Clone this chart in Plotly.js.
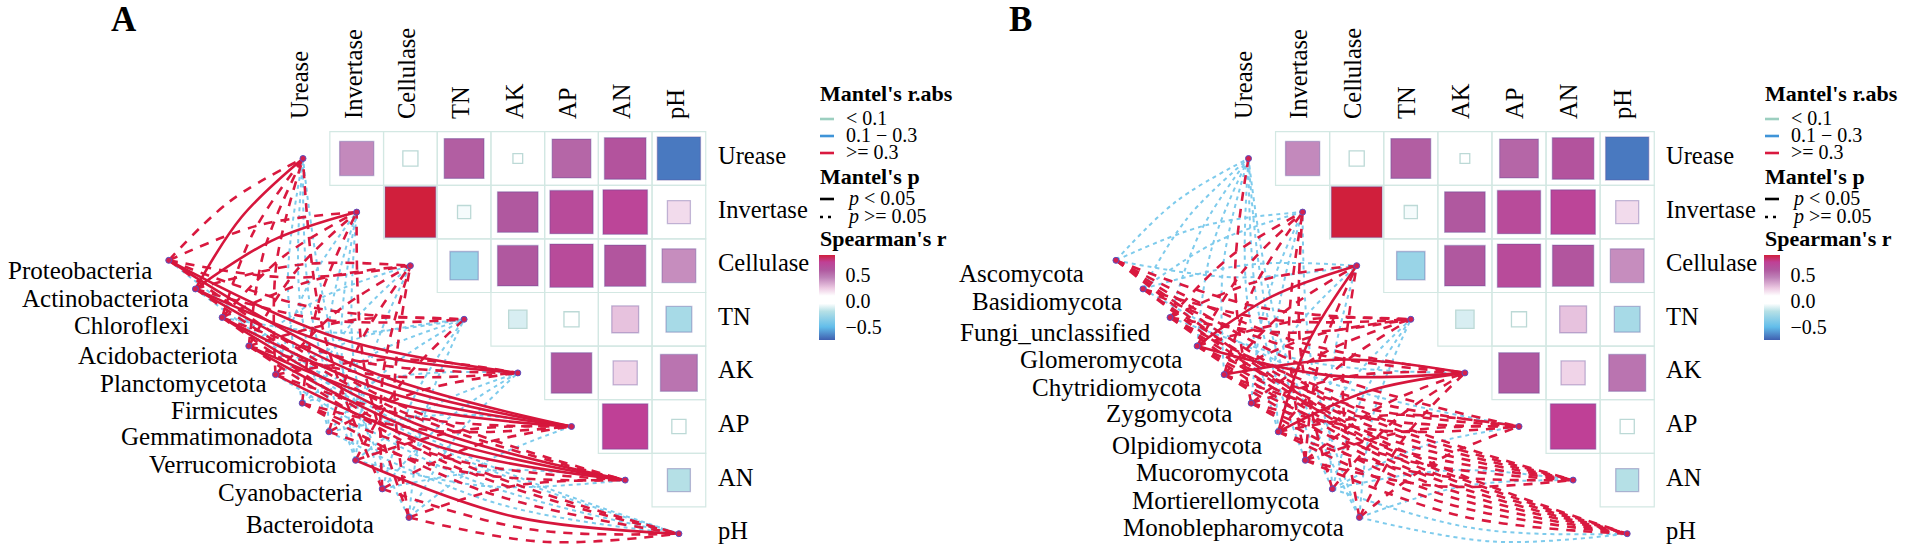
<!DOCTYPE html>
<html>
<head>
<meta charset="utf-8">
<script src="https://cdn.plot.ly/plotly-3.0.1.min.js"></script>
<style>html,body{margin:0;padding:0;background:#fff}#plot{width:1905px;height:551px}</style>
</head>
<body>
<div id="plot"></div>
<script>
// ---------- data ----------
const envVars = ["Urease","Invertase","Cellulase","TN","AK","AP","AN","pH"];
const taxaA = ["Proteobacteria","Actinobacteriota","Chloroflexi","Acidobacteriota","Planctomycetota","Firmicutes","Gemmatimonadota","Verrucomicrobiota","Cyanobacteria","Bacteroidota"];
const taxaB = ["Ascomycota","Basidiomycota","Fungi_unclassified","Glomeromycota","Chytridiomycota","Zygomycota","Olpidiomycota","Mucoromycota","Mortierellomycota","Monoblepharomycota"];
// Spearman's r, upper triangle: each row starts right of the diagonal
const spearman = [
  [0.43,0.09,0.58,-0.04,0.55,0.63,-0.68],
  [0.93,-0.07,0.60,0.68,0.72,0.20],
  [-0.30,0.60,0.68,0.62,0.42],
  [-0.13,0.09,0.27,-0.25],
  [0.60,0.22,0.50],
  [0.75,0.08],
  [-0.20]
];
// Mantel links: one letter per env variable. S solid (r>=0.3, p<0.05), D dashed (r>=0.3, p>=0.05), B dotted blue (weak)
const mantelA = ["DDDDSSDB","SSDDSSDB","DDDBDSSD","DDBDDSSD","DBDBDDSB","BDBBBDDD","BBDBDBDB","BBBDBDBS","DBDBBDBD","BDDBBBDD"];
const mantelB = ["BBBDDDDD","BBBDDBDD","BDDDBDDD","BDSDSDDD","BDDDSDDD","DBBDDDDD","BBSDSDDD","BDDBDDDD","BDBBDBBB","BBDBDDBB"];
const rLegend = ["< 0.1","0.1 \u2212 0.3",">= 0.3"];
const pLegend = ["<i>p</i> < 0.05","<i>p</i> >= 0.05"];
const cbTicks = [0.5,0,-0.5];

// ---------- styles and geometry ----------
const FONT = '"Liberation Serif","Times New Roman",serif';
const W = 1905, H = 551;
const plotTop = 125;
const colorscaleStops = [[-0.75,"#3f5fb0"],[-0.5,"#62bdea"],[-0.2,"#b5e0e6"],[-0.05,"#ffffff"],[0.1,"#ffffff"],[0.25,"#ecc9e2"],[0.45,"#bf82b8"],[0.6,"#b0589f"],[0.75,"#bf4096"],[0.885,"#d01f3c"]];
const cmin = -0.75, cmax = 0.885;
const cs = colorscaleStops.map(s => [(s[0]-cmin)/(cmax-cmin), s[1]]);
const style = {
  B:{color:"#7ecbec",width:2,dash:"4px,4px"},
  D:{color:"#d9193f",width:2.6,dash:"9px,8px"},
  S:{color:"#d6163c",width:2.6,dash:"solid"}
};
const panels = [
 {suffix:"",  taxa:taxaA, mantel:mantelA, px0:303, sx:53.7, dom:[0,712], letter:"A", letterX:124, legendX:820, colShift:-3,
  nodeStart:[-2.5,1.9], nodeStep:[0.497,0.533],
  labelEnd:[153,190,190,239,268,279,314,337,363,375], labelY:[270,298,325,355,383,410,436,464,492,524]},
 {suffix:"2", taxa:taxaB, mantel:mantelB, px0:1248.5, sx:54.1, dom:[950,1660], letter:"B", letterX:1020, legendX:1765, colShift:-4,
  nodeStart:[-2.45,1.9], nodeStep:[0.5,0.533],
  labelEnd:[1085,1123,1152,1183,1202,1233,1263,1290,1320,1345], labelY:[273,301,332,359,387,413,445,472,500,527]}
];
const py0 = 158.5, sy = 53.6;

const traces = [], shapes = [], annotations = [];
const layout = {width:W,height:H,margin:{l:0,r:0,t:0,b:0},paper_bgcolor:"#fff",plot_bgcolor:"rgba(0,0,0,0)",
  showlegend:false,font:{family:FONT,color:"#000",size:24},shapes,annotations};

panels.forEach(p => {
  const xa = "x"+p.suffix, ya = "y"+p.suffix;
  const xkey = "xaxis"+p.suffix, ykey = "yaxis"+p.suffix;
  layout[xkey] = {domain:[p.dom[0]/W,p.dom[1]/W],range:[(p.dom[0]-p.px0)/p.sx,(p.dom[1]-p.px0)/p.sx],anchor:ya,side:"top",
    tickmode:"array",tickvals:envVars.map((_,i)=>i),ticktext:envVars,tickangle:-90,ticks:"",showgrid:false,zeroline:false,showline:false,
    ticklabelstandoff:5,ticklabelshift:p.colShift,tickfont:{family:FONT,size:24.5,color:"#000"}};
  layout[ykey] = {domain:[0,(H-plotTop)/H],range:[(H-py0)/sy,(plotTop-py0)/sy],anchor:xa,side:"right",
    tickmode:"array",tickvals:envVars.map((_,i)=>i),ticktext:envVars,ticks:"",showgrid:false,zeroline:false,showline:false,
    ticklabelstandoff:5,ticklabelshift:3,tickfont:{family:FONT,size:24.5,color:"#000"}};

  // grid cells
  spearman.forEach((row,i)=>row.forEach((_,k)=>{
    const j=i+1+k;
    shapes.push({type:"rect",xref:xa,yref:ya,x0:j-0.5,x1:j+0.5,y0:i-0.5,y1:i+0.5,line:{color:"#d3e8e3",width:1.2},fillcolor:"rgba(0,0,0,0)",layer:"below"});
  }));

  // links, weakest first
  const nodeX = p.taxa.map((_,i)=>p.nodeStart[0]+p.nodeStep[0]*i);
  const nodeY = p.taxa.map((_,i)=>p.nodeStart[1]+p.nodeStep[1]*i);
  ["B","D","S"].forEach(code=>{
    const xs=[],ys=[];
    p.mantel.forEach((row,i)=>{
      row.split("").forEach((c,e)=>{
        if(c!==code) return;
        const x0=nodeX[i],y0=nodeY[i],x1=e,y1=e;
        const dx=x1-x0,dy=y1-y0;
        let nx=-dy,ny=dx;
        if(nx>0){nx=-nx;ny=-ny;}
        const bow=0.06;
        xs.push(x0,(x0+x1)/2+nx*bow,x1,null);
        ys.push(y0,(y0+y1)/2+ny*bow,y1,null);
      });
    });
    traces.push({type:"scatter",mode:"lines",x:xs,y:ys,xaxis:xa,yaxis:ya,hoverinfo:"skip",cliponaxis:false,connectgaps:false,
      line:Object.assign({shape:"spline",smoothing:1},style[code])});
  });

  // taxa nodes and labels
  traces.push({type:"scatter",mode:"markers",x:nodeX,y:nodeY,xaxis:xa,yaxis:ya,hoverinfo:"skip",cliponaxis:false,
    marker:{size:6,color:"#d3204f",line:{color:"#5a50c0",width:1}}});
  p.taxa.forEach((t,i)=>annotations.push({xref:"paper",yref:"paper",x:p.labelEnd[i]/W,y:1-p.labelY[i]/H,text:t,showarrow:false,
    xanchor:"right",yanchor:"middle",borderpad:0,font:{family:FONT,size:25,color:"#000"}}));

  // env nodes
  traces.push({type:"scatter",mode:"markers",x:envVars.map((_,i)=>i),y:envVars.map((_,i)=>i),xaxis:xa,yaxis:ya,hoverinfo:"skip",cliponaxis:false,
    marker:{size:6,color:"#d3204f",line:{color:"#5a50c0",width:1}}});

  // squares
  const cx=[],cy=[],cv=[],cz=[];
  spearman.forEach((row,i)=>row.forEach((v,k)=>{cx.push(i+1+k);cy.push(i);cv.push(v);cz.push(sy*Math.sqrt(Math.abs(v))-1);}));
  traces.push({type:"scatter",mode:"markers",x:cx,y:cy,xaxis:xa,yaxis:ya,hoverinfo:"skip",
    marker:{symbol:"square",size:cz,sizemode:"diameter",opacity:1,color:cv,cmin,cmax,colorscale:cs,
      line:{width:1.3,color:cv.map(v=>Math.abs(v)<0.15?"#bcd9d6":"rgba(90,70,150,0.35)")},
      colorbar:{x:(p.legendX-1)/W,xanchor:"left",xpad:0,ypad:0,y:1-255/H,yanchor:"top",lenmode:"pixels",len:85,thicknessmode:"pixels",thickness:16,
        outlinewidth:0,tickvals:cbTicks,ticktext:cbTicks.map(v=>v===0?"0.0":(v<0?"\u2212"+Math.abs(v).toFixed(1):v.toFixed(1))),ticks:"outside",ticklen:7,tickcolor:"#fff",
        tickfont:{family:FONT,size:20,color:"#000"}}}});

  // panel letter
  annotations.push({xref:"paper",yref:"paper",x:p.letterX/W,y:1-20/H,text:"<b>"+p.letter+"</b>",showarrow:false,xanchor:"center",yanchor:"middle",font:{family:FONT,size:35,color:"#000"}});

  // legend
  const lx=p.legendX, tx=(text,x,y,size,bold)=>annotations.push({xref:"paper",yref:"paper",x:x/W,y:1-y/H,text:bold?"<b>"+text+"</b>":text,showarrow:false,xanchor:"left",yanchor:"middle",font:{family:FONT,size:size,color:"#000"},borderpad:0,xshift:-1});
  const sw=(y,color,dash)=>shapes.push({type:"line",xref:"paper",yref:"paper",x0:lx/W,x1:(lx+14)/W,y0:1-y/H,y1:1-y/H,line:{color,width:2.6,dash:dash||"solid"}});
  tx("Mantel's r.abs",lx,93,22,true);
  [[119,"#9ccfc0"],[136,"#3f94d8"],[153,"#d9193f"]].forEach((e,i)=>{sw(e[0],e[1]);tx(rLegend[i],lx+26,e[0]-1,20);});
  tx("Mantel's p",lx,176,22,true);
  sw(199,"#000");
  shapes.push({type:"line",xref:"paper",yref:"paper",x0:lx/W,x1:(lx+12)/W,y0:1-217/H,y1:1-217/H,line:{color:"#000",width:2.6,dash:"3px,5px"}});
  pLegend.forEach((t,i)=>tx(t,lx+27,198+i*18,20));
  tx("Spearman's r",lx,238,22,true);
});

Plotly.newPlot("plot",traces,layout,{displayModeBar:false,staticPlot:true});
</script>
</body>
</html>
